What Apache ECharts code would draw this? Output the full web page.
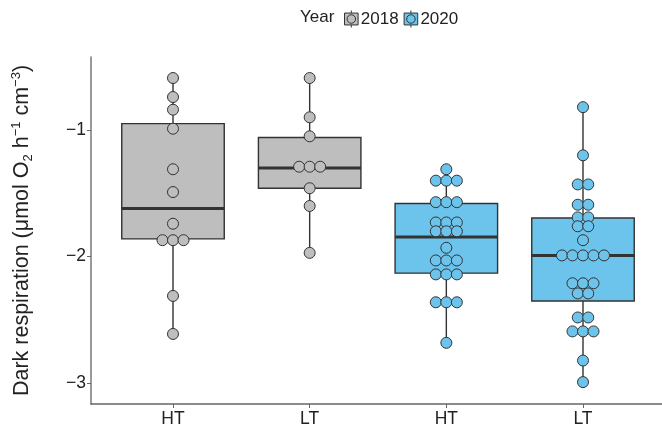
<!DOCTYPE html>
<html>
<head>
<meta charset="utf-8">
<script src="https://cdn.jsdelivr.net/npm/echarts@6/dist/echarts.min.js"></script>
<style>html,body{margin:0;padding:0;background:#fff}#c{width:662px;height:431px}</style>
</head>
<body>
<div id="c"></div>
<script>
// ---- data ----
const categories = ['HT', 'LT', 'HT', 'LT'];
const groupYears = ['2018', '2018', '2020', '2020'];
const yTicks = [-1, -2, -3];

const ht2018 = [-0.59, -0.74, -0.84, -0.99, -1.31, -1.49, -1.74, -1.87, -1.87, -1.87, -2.31, -2.61];
const lt2018 = [-0.59, -0.90, -1.05, -1.29, -1.29, -1.29, -1.46, -1.60, -1.97];
const ht2020 = [-1.31, -1.40, -1.40, -1.40, -1.57, -1.57, -1.57, -1.73, -1.73, -1.73,
                -1.80, -1.80, -1.80, -1.93, -2.03, -2.03, -2.03, -2.14, -2.14, -2.14,
                -2.36, -2.36, -2.36, -2.68];
const lt2020 = [-0.82, -1.20, -1.43, -1.43, -1.59, -1.59, -1.69, -1.69, -1.76, -1.76,
                -1.87, -1.99, -1.99, -1.99, -1.99, -1.99, -2.21, -2.21, -2.21,
                -2.29, -2.29, -2.48, -2.48, -2.59, -2.59, -2.59, -2.82, -2.99];

// five-number summaries [min, Q1, median, Q3, max]
const boxHT2018 = [-2.61, -1.86, -1.62, -0.95, -0.59];
const boxLT2018 = [-1.97, -1.46, -1.30, -1.06, -0.59];
const boxHT2020 = [-2.68, -2.13, -1.845, -1.58, -1.31];
const boxLT2020 = [-2.99, -2.35, -1.99, -1.695, -0.82];

const colors = { '2018': '#bebebe', '2020': '#6cc4ec' };

// ---- build ----
const groups = [ht2018, lt2018, ht2020, lt2020];
const boxes = [boxHT2018, boxLT2018, boxHT2020, boxLT2020];
const dotStep = 0.077; // horizontal spacing of stacked dots (axis units)

function dotplot(values, xCenter) {
  const counts = {};
  values.forEach(v => { counts[v] = (counts[v] || 0) + 1; });
  const seen = {};
  return values.map(v => {
    const n = counts[v];
    const k = seen[v] = (seen[v] === undefined ? 0 : seen[v] + 1);
    return [xCenter + (k - (n - 1) / 2) * dotStep, v];
  });
}

const dots = { '2018': [], '2020': [] };
groups.forEach((g, i) => {
  dots[groupYears[i]].push(...dotplot(g, i + 1));
});

const boxData = boxes.map((b, i) => ({
  value: [i + 1].concat(b),
  itemStyle: { color: colors[groupYears[i]] }
}));

const iconPath = 'path://M2,3H18V17H2Z M10,0V3 M10,17V20 M15,10A5,5 0 1 1 5,10A5,5 0 1 1 15,10Z';
const FF = 'Liberation Sans, Arial, sans-serif';

const chart = echarts.init(document.getElementById('c'), null, { renderer: 'canvas' });
chart.setOption({
  animation: false,
  textStyle: { fontFamily: FF },
  grid: { left: 91, top: 57, width: 574, height: 347, containLabel: false, outerBoundsMode: 'none' },
  graphic: [{
    type: 'text', left: 300, top: 9,
    style: { text: 'Year', fontSize: 17, fontFamily: FF, fill: '#222' }
  }],
  legend: {
    data: ['2018', '2020'],
    left: 344, top: 10, padding: 0,
    itemWidth: 17, itemHeight: 17, itemGap: 5,
    icon: iconPath,
    itemStyle: { borderColor: '#333', borderWidth: 1 },
    textStyle: { fontSize: 17, color: '#222', padding: [0, 0, 0, -4] }
  },
  xAxis: {
    type: 'value', min: 0.4, max: 4.6,
    splitLine: { show: false },
    axisLine: { show: true, lineStyle: { color: '#666', width: 1.5 } },
    axisTick: { show: true, length: 4, customValues: [1, 2, 3, 4], lineStyle: { color: '#666' } },
    axisLabel: {
      customValues: [1, 2, 3, 4],
      formatter: v => categories[Math.round(v) - 1],
      fontSize: 17.5, color: '#222', margin: 6
    }
  },
  yAxis: {
    type: 'value', min: -3.163, max: -0.424,
    splitLine: { show: false },
    axisLine: { show: true, lineStyle: { color: '#777', width: 1.5 } },
    axisTick: { show: true, length: 4, customValues: yTicks, lineStyle: { color: '#666' } },
    axisLabel: {
      customValues: yTicks,
      formatter: v => String(v).replace('-', '\u2212'),
      fontSize: 17.5, color: '#222', margin: 5
    },
    name: '{a|Dark respiration (μmol O}{sub|2}{a| h}{sup|\u22121}{a| cm}{sup|\u22123}{a|)}',
    nameLocation: 'middle', nameRotate: 90, nameGap: 55,
    nameTextStyle: {
      rich: {
        a: { fontSize: 21.5, color: '#222', lineHeight: 28, fontFamily: FF },
        sub: { fontSize: 13, color: '#222', lineHeight: 28, verticalAlign: 'bottom', padding: [0, 0, 1, 0], fontFamily: FF },
        sup: { fontSize: 13, color: '#222', lineHeight: 28, verticalAlign: 'top', padding: [2, 0, 0, 0], fontFamily: FF }
      }
    }
  },
  series: [
    {
      type: 'custom',
      name: 'box',
      data: boxData,
      encode: { x: 0, y: [1, 2, 3, 4, 5] },
      renderItem: function (params, api) {
        const x = api.value(0);
        const w = api.size([0.75, 0])[0];
        const pMin = api.coord([x, api.value(1)]);
        const pQ1 = api.coord([x, api.value(2)]);
        const pMed = api.coord([x, api.value(3)]);
        const pQ3 = api.coord([x, api.value(4)]);
        const pMax = api.coord([x, api.value(5)]);
        const fill = api.visual('color');
        return {
          type: 'group',
          children: [
            { type: 'line', shape: { x1: pMin[0], y1: pMin[1], x2: pQ1[0], y2: pQ1[1] }, style: { stroke: '#333', lineWidth: 1.4 } },
            { type: 'line', shape: { x1: pQ3[0], y1: pQ3[1], x2: pMax[0], y2: pMax[1] }, style: { stroke: '#333', lineWidth: 1.4 } },
            { type: 'rect', shape: { x: pQ3[0] - w / 2, y: pQ3[1], width: w, height: pQ1[1] - pQ3[1] }, style: { fill: fill, stroke: '#333', lineWidth: 1.4 } },
            { type: 'line', shape: { x1: pMed[0] - w / 2, y1: pMed[1], x2: pMed[0] + w / 2, y2: pMed[1] }, style: { stroke: '#333', lineWidth: 3 } }
          ]
        };
      },
      z: 1
    },
    {
      type: 'scatter', name: '2018', data: dots['2018'],
      symbol: 'circle', symbolSize: 11,
      itemStyle: { color: colors['2018'], borderColor: '#333', borderWidth: 1, opacity: 1 },
      z: 3
    },
    {
      type: 'scatter', name: '2020', data: dots['2020'],
      symbol: 'circle', symbolSize: 11,
      itemStyle: { color: colors['2020'], borderColor: '#333', borderWidth: 1, opacity: 1 },
      z: 3
    }
  ]
});
</script>
</body>
</html>
